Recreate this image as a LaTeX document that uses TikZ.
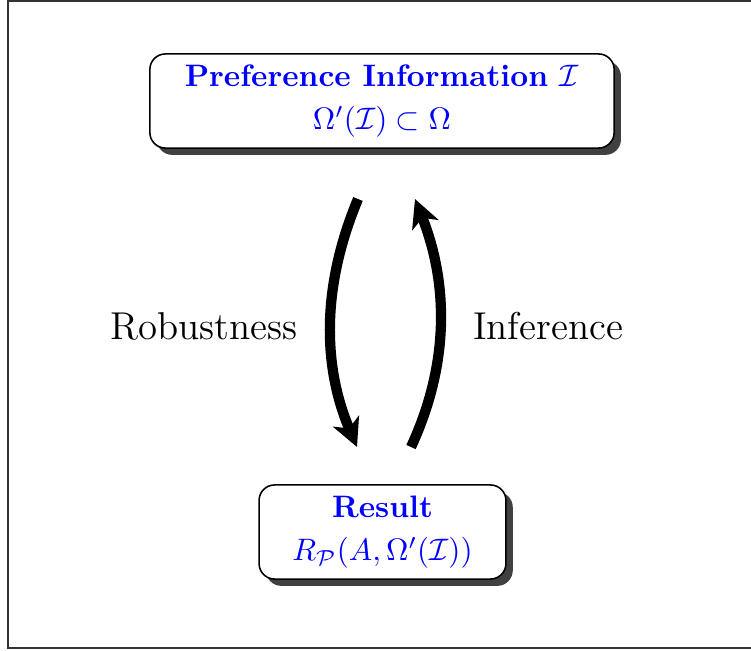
\documentclass[tikz,border=0pt]{standalone}
\usetikzlibrary{shadows,arrows.meta}
\begin{document}
\begin{tikzpicture}[x=0.322pt,y=-0.322pt,
  infobox/.style={draw=black, line width=0.5pt, fill=white, rounded corners=5pt,
    align=center, text=blue, inner sep=0pt,
    drop shadow={shadow xshift=2.2pt, shadow yshift=-2.2pt, fill=black!75, opacity=1}},
  bigarrow/.style={line width=3.3pt, -{Stealth[length=9pt,width=9pt,inset=2.5pt]}},
  lbl/.style={font=\fontsize{12.5}{15}\selectfont}]
\useasboundingbox (0,0) rectangle (751,650);
\draw[line width=0.4pt, black!80] (8,1) rectangle (770,648);
\node[infobox, minimum width=149.5pt, minimum height=30.3pt] (pref) at (382,101)
  {\textbf{Preference Information $\mathcal{I}$}\\[2pt] $\Omega'(\mathcal{I})\subset\Omega$};
\node[infobox, minimum width=79.5pt, minimum height=30.3pt] (res) at (382.5,532)
  {\textbf{Result}\\[2pt] $R_{\mathcal{P}}(A,\Omega'(\mathcal{I}))$};
\coordinate (a1) at (358,199);
\coordinate (a2) at (357,447);
\coordinate (b1) at (411,447);
\coordinate (b2) at (415,199);
\draw[bigarrow] (a1) .. controls (322,285) and (322,365) .. (a2);
\draw[bigarrow] (b1) .. controls (449,365) and (449,285) .. (b2);
\node[lbl] (rob) at (204,326) {Robustness};
\node[lbl] (inf) at (548,326) {Inference};
\end{tikzpicture}
\end{document}
